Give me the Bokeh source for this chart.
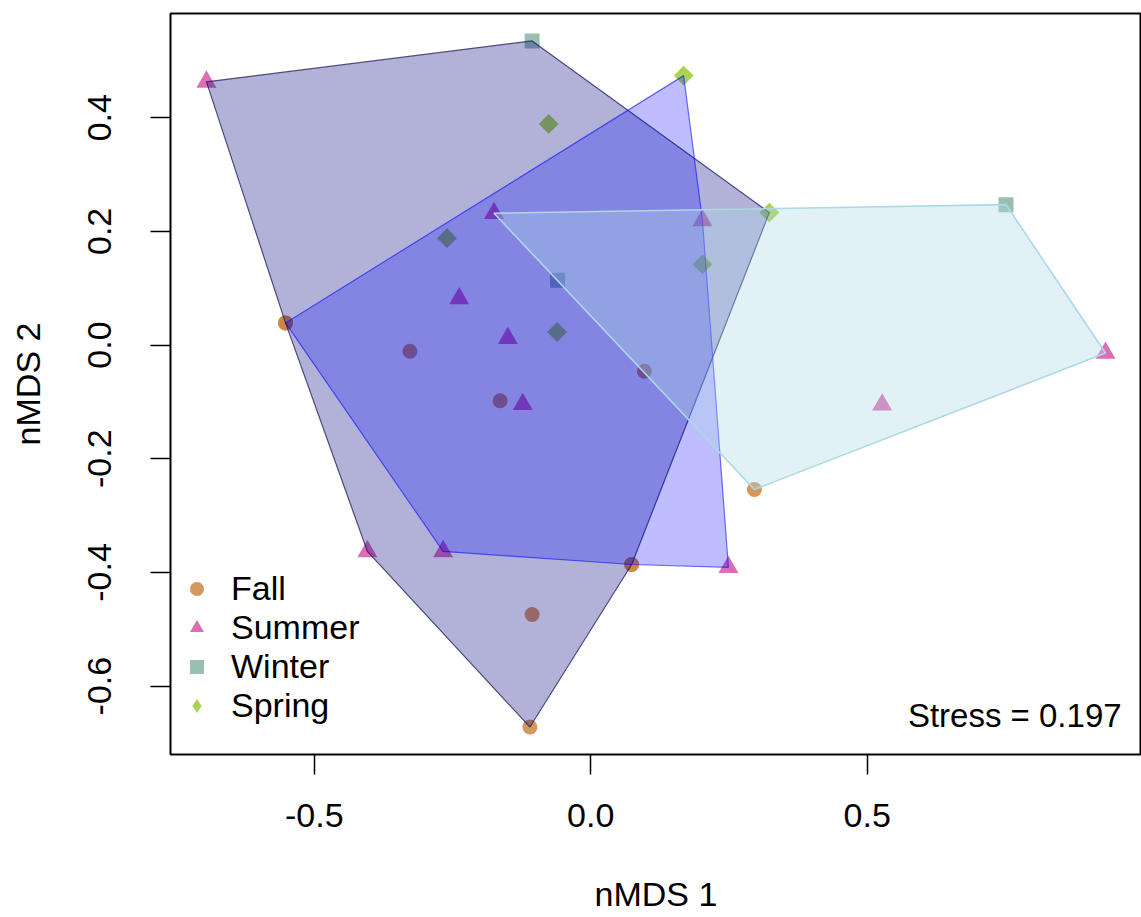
import math
from bokeh.plotting import figure
from bokeh.models import Range1d, FixedTicker, PrintfTickFormatter, Label, Legend, LegendItem
from bokeh.embed import file_html
from bokeh.resources import INLINE

# ---------------- data (nMDS scores) ----------------
seasons = ["Fall", "Summer", "Winter", "Spring"]

fall_x = [-0.552, -0.552, -0.327, -0.164, 0.097, 0.296, 0.074, 0.074, -0.106, -0.110]
fall_y = [0.039, 0.039, -0.011, -0.098, -0.046, -0.254, -0.386, -0.386, -0.474, -0.672]
fall_g = ["A", "B", "B", "B", "C", "C", "A", "B", "A", "A"]

summer_x = [-0.695, -0.175, -0.238, -0.150, -0.123, -0.404, -0.267, 0.249, 0.202, 0.527, 0.931]
summer_y = [0.463, 0.232, 0.082, 0.012, -0.104, -0.363, -0.363, -0.391, 0.219, -0.105, -0.014]
summer_g = ["A", "C", "B", "B", "B", "A", "B", "B", "B", "C", "C"]

winter_x = [-0.106, -0.060, 0.751]
winter_y = [0.535, 0.114, 0.247]
winter_g = ["A", "C", "C"]

spring_x = [0.168, -0.076, -0.260, -0.061, 0.202, 0.323]
spring_y = [0.474, 0.389, 0.188, 0.023, 0.142, 0.233]
spring_g = ["B", "A", "B", "B", "C", "A"]

hull_groups = ["A", "B", "C"]
stress = 0.197

x_ticks = [-0.5, 0.0, 0.5]
y_ticks = [-0.6, -0.4, -0.2, 0.0, 0.2, 0.4]

# ---------------- styling ----------------
season_style = {
    "Fall":   dict(marker="circle", size=15, color="#CD853F", alpha=0.85, angle=0.0, legend_marker="circle"),
    "Summer": dict(marker="triangle", size=20, color="#C71585", alpha=0.62, angle=0.0, legend_marker="triangle"),
    "Winter": dict(marker="square", size=15, color="#458B74", alpha=0.55, angle=0.0, legend_marker="square"),
    "Spring": dict(marker="square", size=14, color="#9ACD32", alpha=0.85, angle=math.pi / 4, legend_marker="diamond"),
}
hull_style = {
    "A": dict(fill="#000080", fill_alpha=0.30, line="#1A1A5A", line_alpha=0.75, width=1.2),
    "B": dict(fill="#0000FF", fill_alpha=0.26, line="#0000FF", line_alpha=0.55, width=1.2),
    "C": dict(fill="#ADD8E6", fill_alpha=0.35, line="#ADD8E6", line_alpha=1.0, width=1.6),
}
FONT = "Liberation Sans"

series = {
    "Fall": (fall_x, fall_y, fall_g),
    "Summer": (summer_x, summer_y, summer_g),
    "Winter": (winter_x, winter_y, winter_g),
    "Spring": (spring_x, spring_y, spring_g),
}

all_x = fall_x + summer_x + winter_x + spring_x
all_y = fall_y + summer_y + winter_y + spring_y
xs_span = max(all_x) - min(all_x)
ys_span = max(all_y) - min(all_y)
xlo, xhi = min(all_x) - 0.04 * xs_span, max(all_x) + 0.04 * xs_span
ylo, yhi = min(all_y) - 0.04 * ys_span, max(all_y) + 0.04 * ys_span


def convex_hull(points):
    pts = sorted(set(points))
    if len(pts) <= 2:
        return pts

    def cross(o, a, b):
        return (a[0] - o[0]) * (b[1] - o[1]) - (a[1] - o[1]) * (b[0] - o[0])

    lower, upper = [], []
    for pt in pts:
        while len(lower) >= 2 and cross(lower[-2], lower[-1], pt) <= 0:
            lower.pop()
        lower.append(pt)
    for pt in reversed(pts):
        while len(upper) >= 2 and cross(upper[-2], upper[-1], pt) <= 0:
            upper.pop()
        upper.append(pt)
    return lower[:-1] + upper[:-1]


p = figure(
    width=1141, height=917,
    x_range=Range1d(xlo, xhi), y_range=Range1d(ylo, yhi),
    output_backend="svg", toolbar_location=None,
    min_border_left=170, min_border_right=0, min_border_top=13, min_border_bottom=163,
)
p.grid.visible = False
p.outline_line_color = "black"
p.outline_line_width = 2
p.background_fill_color = "white"
p.border_fill_color = "white"

# points (drawn first, hulls over them)
renderers = {}
for s in seasons:
    x, y, g = series[s]
    st = season_style[s]
    renderers[s] = p.scatter(
        x, y, marker=st["marker"], size=st["size"], angle=st["angle"],
        fill_color=st["color"], fill_alpha=st["alpha"], line_color=None,
    )

# legend keys: hidden copies (legend keys are drawn unrotated, so each gets its own key marker)
legend_keys = {}
for s in seasons:
    x, y, g = series[s]
    st = season_style[s]
    legend_keys[s] = p.scatter(
        x, y, marker=st["legend_marker"], size=st["size"],
        fill_color=st["color"], fill_alpha=st["alpha"], line_color=None, visible=False,
    )

# convex hulls per group
for grp in hull_groups:
    pts = []
    for s in seasons:
        x, y, g = series[s]
        pts += [(xx, yy) for xx, yy, gg in zip(x, y, g) if gg == grp]
    h = convex_hull(pts)
    st = hull_style[grp]
    p.patch([q[0] for q in h], [q[1] for q in h],
            fill_color=st["fill"], fill_alpha=st["fill_alpha"],
            line_color=st["line"], line_alpha=st["line_alpha"], line_width=st["width"])

# axes
for ax, ticks in ((p.xaxis[0], x_ticks), (p.yaxis[0], y_ticks)):
    ax.ticker = FixedTicker(ticks=ticks)
    ax.formatter = PrintfTickFormatter(format="%.1f")
    ax.axis_line_color = None
    ax.minor_tick_line_color = None
    ax.major_tick_out = 20
    ax.major_tick_in = 0
    ax.major_tick_line_width = 1.5
    ax.major_tick_line_color = "black"
    ax.major_label_text_font = FONT
    ax.major_label_text_font_size = "34px"
    ax.major_label_text_color = "black"
    ax.axis_label_text_font = FONT
    ax.axis_label_text_font_size = "34px"
    ax.axis_label_text_font_style = "normal"
    ax.axis_label_text_color = "black"

p.xaxis.major_label_standoff = 29
p.xaxis.axis_label = "nMDS 1"
p.xaxis.axis_label_standoff = 45
p.yaxis.major_label_orientation = "vertical"
p.yaxis.major_label_standoff = 39
p.yaxis.axis_label = "nMDS 2"
p.yaxis.axis_label_standoff = 39

# stress annotation
p.add_layout(Label(x=xhi - 0.036, y=ylo + 0.068, text=f"Stress = {stress}",
                   text_align="right", text_baseline="alphabetic",
                   text_font=FONT, text_font_size="33px", text_color="black"))

legend = Legend(
    items=[LegendItem(label=s, renderers=[legend_keys[s]]) for s in seasons],
    location=(9, 29), orientation="vertical", click_policy="none",
    border_line_color=None, background_fill_alpha=0.0, inactive_fill_alpha=0.0,
    label_text_font=FONT, label_text_font_size="34px", label_text_color="black",
    glyph_width=35, glyph_height=39, label_height=39, spacing=0, padding=0, margin=0,
    label_standoff=17,
)
p.add_layout(legend)

open("out.html", "w").write(file_html(p, INLINE))
